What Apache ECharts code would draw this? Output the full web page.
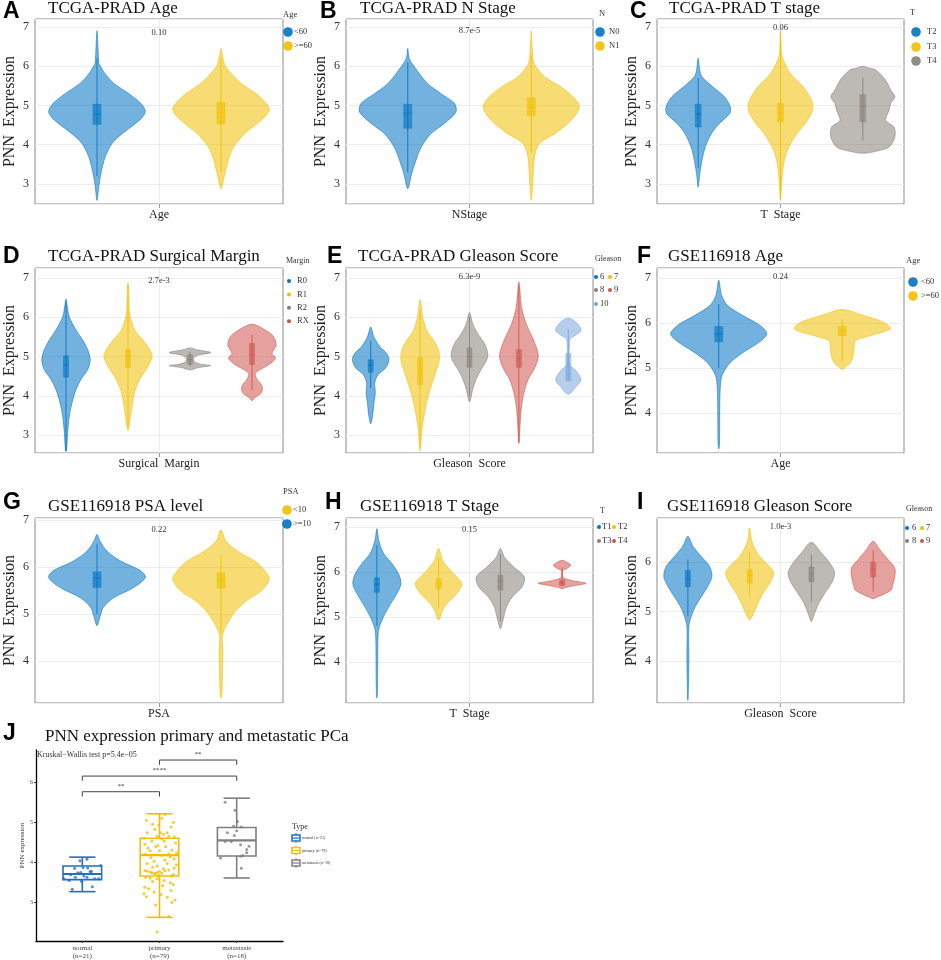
<!DOCTYPE html>
<html><head><meta charset="utf-8">
<script src="https://cdn.jsdelivr.net/npm/echarts@6/dist/echarts.min.js"></script>
<style>html,body{margin:0;padding:0;background:#fff}#c{width:941px;height:960px}</style>
</head><body><div id="c"></div><script>
// ---------------- DATA ----------------
// Violin density profiles: [expression value, relative half-width 0..1]
// Box stats: [lower whisker, Q1, median, Q3, upper whisker]
const groupsA = ['<60', '>=60'];
const densityA = [
  [[6.9,0],[6.5,0.02],[6.07,0.04],[5.98,0.08],[5.8,0.17],[5.56,0.35],[5.3,0.66],[5.05,0.91],[4.85,1.0],[4.7,0.94],[4.54,0.8],[4.28,0.52],[4.03,0.31],[3.69,0.17],[3.26,0.08],[2.92,0.035],[2.58,0]],
  [[6.45,0],[6.2,0.04],[5.98,0.1],[5.56,0.42],[5.3,0.73],[5.05,0.94],[4.88,1.0],[4.62,0.83],[4.28,0.49],[3.94,0.26],[3.6,0.15],[3.26,0.08],[2.88,0]]
];
const boxA = [[3.2,4.52,4.78,5.03,6.2],[3.3,4.53,4.82,5.08,6.2]];

const groupsB = ['N0', 'N1'];
const densityB = [
  [[6.45,0],[6.2,0.03],[5.98,0.14],[5.56,0.41],[5.3,0.69],[5.05,0.97],[4.83,1.0],[4.54,0.76],[4.28,0.48],[3.94,0.28],[3.6,0.17],[3.26,0.08],[2.88,0]],
  [[6.9,0],[6.5,0.02],[6.07,0.06],[5.73,0.28],[5.47,0.62],[5.22,0.87],[4.96,1.0],[4.62,0.83],[4.28,0.49],[4.03,0.17],[3.69,0.07],[3.1,0.035],[2.58,0]]
];
const boxB = [[3.3,4.42,4.8,5.03,6.1],[3.8,4.74,4.94,5.19,6.3]];

const groupsC = ['T2', 'T3', 'T4'];
const densityC = [
  [[6.2,0],[5.9,0.05],[5.73,0.12],[5.47,0.46],[5.22,0.82],[4.96,1.0],[4.79,0.98],[4.54,0.66],[4.28,0.41],[3.94,0.22],[3.6,0.12],[3.26,0.05],[2.92,0]],
  [[6.9,0],[6.5,0.02],[6.24,0.05],[5.81,0.31],[5.47,0.71],[5.13,0.97],[4.88,1.0],[4.54,0.77],[4.28,0.51],[3.94,0.26],[3.6,0.12],[3.18,0.05],[2.6,0]],
  [[6.0,0],[5.95,0.2],[5.9,0.41],[5.64,0.71],[5.39,0.87],[5.22,1.0],[5.05,0.87],[4.88,0.82],[4.62,0.71],[4.45,0.97],[4.2,1.0],[3.94,0.82],[3.85,0.5],[3.78,0]]
];
const boxC = [[3.4,4.45,4.78,5.03,5.7],[2.6,4.58,4.82,5.05,6.9],[4.1,4.58,4.98,5.27,5.7]];

const groupsD = ['R0', 'R1', 'R2', 'RX'];
const densityD = [
  [[6.46,0],[6.2,0.07],[6.0,0.14],[5.67,0.42],[5.42,0.69],[5.17,0.9],[4.92,1.0],[4.67,0.9],[4.42,0.62],[4.17,0.42],[3.83,0.25],[3.5,0.14],[3.08,0.07],[2.6,0.02]],
  [[6.88,0],[6.5,0.04],[6.08,0.07],[5.67,0.28],[5.42,0.62],[5.17,0.9],[5.0,1.0],[4.75,0.83],[4.5,0.56],[4.17,0.31],[3.83,0.19],[3.5,0.11],[3.12,0]],
  [[5.22,0],[5.17,0.3],[5.1,0.86],[5.03,0.3],[4.95,0.15],[4.86,0.2],[4.8,0.5],[4.77,0.86],[4.72,0.35],[4.66,0]],
  [[5.82,0],[5.67,0.56],[5.5,0.9],[5.29,1.0],[5.08,0.83],[4.96,0.97],[4.79,0.69],[4.58,0.14],[4.42,0.21],[4.25,0.42],[4.08,0.39],[3.95,0.1],[3.88,0]]
];
const boxD = [[2.6,4.48,4.79,5.02,6.4],[3.2,4.72,4.95,5.18,6.8],[4.75,4.8,4.92,5.05,5.12],[4.15,4.8,5.05,5.33,5.55]];

const groupsE = ['6', '7', '8', '9', '10'];
const densityE = [
  [[5.75,0],[5.5,0.17],[5.25,0.48],[5.08,0.83],[4.92,0.95],[4.71,0.78],[4.54,0.38],[4.33,0.21],[4.08,0.24],[3.83,0.17],[3.5,0.1],[3.29,0]],
  [[6.45,0],[6.0,0.14],[5.67,0.34],[5.42,0.69],[5.17,0.95],[4.92,1.0],[4.67,0.86],[4.42,0.69],[4.17,0.52],[3.83,0.34],[3.5,0.21],[3.17,0.1],[2.75,0.03],[2.6,0]],
  [[6.12,0],[5.83,0.17],[5.58,0.43],[5.33,0.78],[5.08,0.95],[4.92,0.9],[4.67,0.6],[4.42,0.34],[4.17,0.17],[3.85,0]],
  [[6.9,0],[6.25,0.14],[5.83,0.38],[5.5,0.69],[5.17,0.95],[4.96,1.0],[4.67,0.78],[4.42,0.48],[4.08,0.26],[3.75,0.14],[3.33,0.07],[2.8,0]],
  [[5.98,0],[5.85,0.45],[5.67,0.66],[5.55,0.4],[5.45,0.1],[5.3,0.06],[4.8,0.06],[4.67,0.34],[4.42,0.66],[4.25,0.43],[4.04,0]]
];
const boxE = [[4.2,4.6,4.78,4.92,5.4],[2.7,4.29,4.65,4.97,6.2],[4.0,4.73,5.0,5.22,6.0],[2.8,4.73,4.95,5.17,6.8],[4.4,4.38,4.55,5.08,5.7]];

const groupsF = ['<60', '>=60'];
const densityF = [
  [[6.95,0],[6.61,0.06],[6.39,0.18],[6.17,0.49],[5.95,0.85],[5.76,1.0],[5.58,0.85],[5.36,0.53],[5.13,0.25],[4.84,0.07],[4.54,0.03],[4.0,0.02],[3.3,0.015],[3.2,0]],
  [[6.3,0],[6.17,0.42],[6.02,0.85],[5.87,1.0],[5.73,0.63],[5.61,0.28],[5.5,0.25],[5.28,0.23],[5.13,0.18],[5.03,0.08],[4.97,0]]
];
const boxF = [[5.0,5.58,5.75,5.92,6.42],[5.15,5.72,5.82,5.92,6.1]];

const groupsG = ['>=10', '<10'];
const densityG = [
  [[6.7,0],[6.56,0.06],[6.34,0.21],[6.13,0.49],[5.92,0.91],[5.78,1.0],[5.57,0.77],[5.35,0.35],[5.14,0.13],[4.93,0.06],[4.75,0]],
  [[6.8,0],[6.56,0.1],[6.34,0.35],[6.13,0.7],[5.92,0.91],[5.74,1.0],[5.5,0.84],[5.28,0.52],[5.07,0.31],[4.86,0.17],[4.65,0.06],[4.5,0.025],[4.2,0.04],[3.8,0.03],[3.3,0.02],[3.2,0]]
];
const boxG = [[5.0,5.57,5.77,5.9,6.5],[4.6,5.55,5.72,5.88,6.25]];

const groupsH = ['T1', 'T2', 'T3', 'T4'];
const densityH = [
  [[6.96,0],[6.7,0.08],[6.41,0.28],[6.19,0.62],[5.96,0.9],[5.74,1.0],[5.52,0.83],[5.22,0.49],[4.93,0.21],[4.7,0.07],[4.4,0.04],[4.0,0.035],[3.3,0.02],[3.2,0]],
  [[6.52,0],[6.26,0.17],[6.04,0.49],[5.89,0.76],[5.74,0.97],[5.52,0.76],[5.3,0.35],[5.15,0.17],[4.93,0]],
  [[6.52,0],[6.33,0.17],[6.11,0.56],[5.89,1.0],[5.67,0.9],[5.44,0.49],[5.22,0.25],[4.93,0.11],[4.74,0]],
  [[6.26,0],[6.2,0.25],[6.15,0.36],[6.08,0.2],[6.03,0.03],[5.9,0.03],[5.86,0.08],[5.8,0.5],[5.75,1.0],[5.7,0.55],[5.65,0.1],[5.62,0]]
];
const boxH = [[4.8,5.55,5.73,5.87,6.6],[5.2,5.63,5.74,5.85,6.3],[4.9,5.6,5.8,5.93,6.4],[5.7,5.7,5.76,5.82,6.1]];

const groupsI = ['6', '7', '8', '9'];
const densityI = [
  [[6.52,0],[6.32,0.21],[6.11,0.56],[5.91,0.9],[5.71,1.0],[5.51,0.83],[5.3,0.56],[5.1,0.31],[4.9,0.14],[4.7,0.04],[4.1,0.04],[3.5,0.025],[3.2,0]],
  [[6.69,0],[6.39,0.11],[6.11,0.42],[5.91,0.83],[5.78,1.0],[5.57,0.83],[5.37,0.56],[5.17,0.35],[4.97,0.17],[4.83,0]],
  [[6.4,0],[6.18,0.42],[5.98,0.76],[5.78,0.97],[5.57,0.83],[5.37,0.56],[5.17,0.31],[4.97,0.14],[4.8,0]],
  [[6.42,0],[6.25,0.28],[6.05,0.62],[5.88,0.9],[5.71,0.9],[5.51,0.8],[5.44,0.76],[5.35,0.45],[5.3,0.2],[5.26,0]]
];
const boxI = [[4.9,5.5,5.65,5.83,6.05],[5.3,5.57,5.73,5.85,6.2],[5.2,5.6,5.75,5.9,6.15],[5.4,5.7,5.85,6.0,6.25]];

const pValues = ['0.10', '8.7e-5', '0.06', '2.7e-3', '6.3e-9', '0.24', '0.22', '0.15', '1.0e-3'];

// Panel J
const typeCategories = ['normal\n(n=21)', 'primary\n(n=79)', 'metastasis\n(n=18)'];
const typeLegend = ['normal (n=21)', 'primary (n=79)', 'metastasis (n=18)'];
const boxJ = [[3.27,3.57,3.71,3.91,4.13],[2.63,3.66,4.18,4.60,5.21],[3.61,4.16,4.55,4.87,5.60]];
const normalValues = [4.04,4.08,3.85,3.86,3.87,3.74,3.69,3.66,3.77,3.77,3.75,3.55,3.53,3.59,3.59,3.39,3.33,3.63,3.63,3.59,3.92];
const normalJitter = [-0.03,0.06,-0.10,0.07,0.01,-0.06,-0.15,0.02,0.10,0.12,-0.02,-0.17,-0.01,0.16,0.21,0.13,-0.13,0.06,-0.09,-0.24,0.24];
const primaryValues = [5.05,5.10,5.00,4.93,4.82,4.74,4.74,4.74,4.65,4.65,4.63,4.53,4.53,4.45,4.39,4.39,4.31,4.29,4.29,4.21,4.17,4.09,4.03,3.97,3.97,3.91,3.86,3.80,3.78,3.76,3.74,3.72,3.72,3.75,3.77,3.73,3.79,3.81,3.66,3.63,3.61,3.59,3.55,3.49,3.38,3.34,3.26,3.20,3.13,3.06,3.14,2.94,2.65,2.27,4.95,4.88,4.60,4.48,4.36,4.24,4.12,4.06,3.94,3.88,3.70,3.68,3.52,3.45,3.42,3.30,3.22,3.00,4.70,4.58,4.42,4.20,4.14,3.84,5.20];
const primaryJitter = [-0.17,0.03,0.18,-0.01,-0.06,-0.16,0.01,0.10,0.12,-0.03,0.19,-0.10,0.06,-0.19,-0.05,0.08,0.16,-0.12,0.0,0.12,0.03,0.19,-0.07,-0.16,0.10,-0.03,0.19,-0.19,-0.16,-0.12,-0.10,-0.07,-0.05,-0.03,0.0,0.03,0.07,0.12,0.15,-0.18,-0.12,-0.03,0.06,0.14,-0.19,-0.14,-0.07,0.02,0.10,0.20,-0.17,-0.05,0.12,-0.03,-0.09,0.15,-0.20,0.21,-0.15,0.22,-0.11,0.07,0.22,-0.09,0.18,-0.01,-0.09,0.18,0.04,0.15,-0.20,0.16,0.05,0.03,-0.02,-0.18,0.14,0.05,0.07];
const metastasisValues = [5.50,5.30,5.02,4.90,4.79,4.74,4.67,4.52,4.52,4.40,4.44,4.32,4.24,4.17,4.15,4.11,3.85,4.88];
const metastasisJitter = [-0.15,-0.02,0.01,-0.04,0.0,-0.12,-0.03,-0.15,-0.07,0.16,0.05,0.13,0.13,0.08,0.05,-0.21,0.06,0.06];
const comparisons = [[1,2,5.76,'**'],[1,3,6.15,'****'],[2,3,6.55,'**']];

// ---------------- STYLE / LAYOUT ----------------
const BLUE='#0073C2', YEL='#EFC000', GREY='#878078', RED='#CD534C', LBLUE='#7AA6DC';
const SERIF="'Liberation Serif','DejaVu Serif',serif";
const SANS="'Liberation Sans','DejaVu Sans',sans-serif";
function rgba(hex,a){const n=parseInt(hex.slice(1),16);return 'rgba('+(n>>16&255)+','+(n>>8&255)+','+(n&255)+','+a+')';}

const cols=[35,346,657], widths=[248,247,247], rowsTop=[19,268,518], H=185;
const panels=[
 {L:'A',title:'TCGA-PRAD Age',xname:'Age',groups:groupsA,dens:densityA,box:boxA,colors:[BLUE,YEL],yr:[2.49,7.2],tx:48,lx:3,py:33},
 {L:'B',title:'TCGA-PRAD N Stage',xname:'NStage',groups:groupsB,dens:densityB,box:boxB,colors:[BLUE,YEL],yr:[2.49,7.2],tx:360,lx:320,py:31},
 {L:'C',title:'TCGA-PRAD T stage',xname:'T  Stage',groups:groupsC,dens:densityC,box:boxC,colors:[BLUE,YEL,GREY],yr:[2.49,7.2],tx:669,lx:630,py:28},
 {L:'D',title:'TCGA-PRAD Surgical Margin',xname:'Surgical  Margin',groups:groupsD,dens:densityD,box:boxD,colors:[BLUE,YEL,GREY,RED],yr:[2.55,7.25],tx:48,lx:3,py:281},
 {L:'E',title:'TCGA-PRAD Gleason Score',xname:'Gleason  Score',groups:groupsE,dens:densityE,box:boxE,colors:[BLUE,YEL,GREY,RED,LBLUE],yr:[2.55,7.25],tx:358,lx:327,py:277},
 {L:'F',title:'GSE116918 Age',xname:'Age',groups:groupsF,dens:densityF,box:boxF,colors:[BLUE,YEL],yr:[3.11,7.22],tx:668,lx:637,py:277},
 {L:'G',title:'GSE116918 PSA level',xname:'PSA',groups:groupsG,dens:densityG,box:boxG,colors:[BLUE,YEL],yr:[3.1,7.05],tx:48,lx:3,py:530},
 {L:'H',title:'GSE116918 T Stage',xname:'T  Stage',groups:groupsH,dens:densityH,box:boxH,colors:[BLUE,YEL,GREY,RED],yr:[3.09,7.2],tx:360,lx:325,py:530},
 {L:'I',title:'GSE116918 Gleason Score',xname:'Gleason  Score',groups:groupsI,dens:densityI,box:boxI,colors:[BLUE,YEL,GREY,RED],yr:[3.15,6.89],tx:667,lx:637,py:527}
];
const titleY=[9,257,507], letterY=[12,257,503];

const grids=[], xAxes=[], yAxes=[], series=[], gfx=[];
function txt(text,x,y,size,opt){opt=opt||{};return {type:'text',silent:true,z:100,style:{text:text,x:x,y:y,fontSize:size,fontFamily:opt.family||SERIF,fontWeight:opt.weight||'normal',fill:opt.fill||'#222',align:opt.align||'left',verticalAlign:opt.va||'middle'}};}

panels.forEach((p,i)=>{
  const r=Math.floor(i/3), c=i%3, N=p.groups.length;
  grids.push({left:cols[c],top:rowsTop[r],width:widths[c],height:H,show:true,borderColor:'#8a8a8a',borderWidth:1,backgroundColor:'#fff',containLabel:false});
  xAxes.push({type:'value',gridIndex:i,min:0,max:N,interval:N/2,
    axisLine:{show:false},
    axisTick:{show:true,length:4,customValues:[N/2],lineStyle:{color:'#999'}},
    axisLabel:{customValues:[N/2],formatter:(v)=>Math.abs(v-N/2)<1e-6?p.xname:'',fontFamily:SERIF,fontSize:12,color:'#222',margin:5},
    splitLine:{show:true,lineStyle:{color:'#ececec',width:1}}});
  yAxes.push({type:'value',gridIndex:i,min:p.yr[0],max:p.yr[1],
    name:'PNN  Expression',nameLocation:'middle',nameGap:17,nameTextStyle:{fontFamily:SERIF,fontSize:16,color:'#222'},
    axisLine:{show:false},axisTick:{show:false},
    axisLabel:{fontFamily:SERIF,fontSize:12,color:'#333',margin:6,showMinLabel:false,showMaxLabel:false},
    splitLine:{show:true,lineStyle:{color:'#ececec',width:1}}});
  const dens=p.dens, box=p.box, colors=p.colors;
  const bandPx=widths[c]/N;
  const boxHalf=Math.max(2.5,Math.min(4,bandPx*0.035));
  series.push({type:'custom',xAxisIndex:i,yAxisIndex:i,clip:true,
    data:p.groups.map((g,k)=>[k+0.5,5,k]),encode:{x:0,y:1},
    renderItem:function(params,api){
      const k=api.value(2), prof=dens[k], b=box[k], col=colors[k];
      const xc=k+0.5, half=0.39;
      const pts=[];
      prof.forEach(q=>pts.push(api.coord([xc+q[1]*half,q[0]])));
      for(let j=prof.length-1;j>=0;j--){ if(prof[j][1]>0) pts.push(api.coord([xc-prof[j][1]*half,prof[j][0]])); }
      const cx=api.coord([xc,b[2]])[0];
      const yMed=api.coord([xc,b[2]])[1], yQ3=api.coord([xc,b[3]])[1], yQ1=api.coord([xc,b[1]])[1];
      const yHi=api.coord([xc,b[4]])[1], yLo=api.coord([xc,b[0]])[1];
      return {type:'group',children:[
        {type:'polygon',shape:{points:pts,smooth:0.3},style:{fill:rgba(col,0.55),stroke:rgba(col,0.7),lineWidth:0.8}},
        {type:'line',shape:{x1:cx,y1:yHi,x2:cx,y2:yLo},style:{stroke:rgba(col,0.85),lineWidth:1}},
        {type:'rect',shape:{x:cx-boxHalf,y:yQ3,width:boxHalf*2,height:yQ1-yQ3},style:{fill:rgba(col,0.6),stroke:rgba(col,0.8),lineWidth:0.5}},
        {type:'line',shape:{x1:cx-boxHalf,y1:yMed,x2:cx+boxHalf,y2:yMed},style:{stroke:rgba(col,0.9),lineWidth:0.8}}
      ]};
    }});
  gfx.push(txt(p.title,p.tx,titleY[r],17,{fill:'#111'}));
  gfx.push(txt(p.L,p.lx,letterY[r],23,{family:SANS,weight:'bold',fill:'#000'}));
  gfx.push(txt(pValues[i],cols[c]+widths[c]/2,p.py,8.5,{align:'center',fill:'#333'}));
});

// ---- legends ----
function bigLegend(title,tx,ty,cx,cys,textX,labels,colors){
  gfx.push(txt(title,tx,ty,8.5,{fill:'#333'}));
  labels.forEach((l,k)=>{
    gfx.push({type:'circle',silent:true,z:100,shape:{cx:cx,cy:cys[k],r:4.8},style:{fill:colors[k],opacity:0.9}});
    gfx.push(txt(l,textX,cys[k],8.5,{fill:'#333'}));
  });
}
function dotItem(label,dx,y,tx,color){
  gfx.push({type:'circle',silent:true,z:100,shape:{cx:dx,cy:y,r:2},style:{fill:color}});
  gfx.push(txt(label,tx,y,8.5,{fill:'#333'}));
}
bigLegend('Age',283,15,288,[32,46],294,groupsA,[BLUE,YEL]);
bigLegend('N',599,14,600,[32,46],609,groupsB,[BLUE,YEL]);
bigLegend('T',910,13,916,[32,47,61],927,groupsC,[BLUE,YEL,GREY]);
bigLegend('Age',906,261,913,[282,296],921,groupsF,[BLUE,YEL]);
bigLegend('PSA',283,492,287,[510,524],293,['<10','>=10'],[YEL,BLUE]);
gfx.push(txt('Margin',286,261,8,{fill:'#333'}));
groupsD.forEach((g,k)=>dotItem(g,289,281+k*13.4,297,[BLUE,YEL,GREY,RED][k]));
gfx.push(txt('Gleason',595,259,8,{fill:'#333'}));
dotItem('6',596,277,600,BLUE); dotItem('7',610,277,614,YEL);
dotItem('8',596,290,600,GREY); dotItem('9',610,290,614,RED);
dotItem('10',596,304,600,LBLUE);
gfx.push(txt('T',600,511,8,{fill:'#333'}));
dotItem('T1',599,527,602,BLUE); dotItem('T2',614,527,618,YEL);
dotItem('T3',599,541,602,GREY); dotItem('T4',614,541,618,RED);
gfx.push(txt('Gleason',906,509,8,{fill:'#333'}));
dotItem('6',907,528,912,BLUE); dotItem('7',922,528,926,YEL);
dotItem('8',907,541,912,GREY); dotItem('9',922,541,926,RED);

// ---- Panel J ----
const jCol=['#1F6FC5','#EFBF05','#7F7F7F'];
grids.push({left:36,top:750,width:247,height:193,show:false,containLabel:false});
xAxes.push({type:'value',gridIndex:9,min:0.4,max:3.6,
  axisLine:{show:true,lineStyle:{color:'#000',width:1.3}},
  axisTick:{show:true,length:2,customValues:[1,2,3],lineStyle:{color:'#333'}},
  axisLabel:{customValues:[1,2,3],formatter:(v)=>typeCategories[Math.round(v)-1]||'',fontFamily:SERIF,fontSize:7,lineHeight:8,color:'#444',margin:3},
  splitLine:{show:false}});
yAxes.push({type:'value',gridIndex:9,min:2.04,max:6.8,
  name:'PNN expression',nameLocation:'middle',nameGap:10,nameTextStyle:{fontFamily:SERIF,fontSize:7,color:'#333'},
  axisLine:{show:true,lineStyle:{color:'#000',width:1.3}},
  axisTick:{show:true,length:2,lineStyle:{color:'#333'}},
  axisLabel:{fontFamily:SERIF,fontSize:6,color:'#555',margin:3,showMinLabel:false,showMaxLabel:false},
  splitLine:{show:false}});
series.push({type:'custom',xAxisIndex:9,yAxisIndex:9,
  data:boxJ.map((b,k)=>[k+1,b[0],b[1],b[2],b[3],b[4],k]),encode:{x:0,y:[1,5]},
  renderItem:function(params,api){
    const x=api.value(0), k=api.value(6), col=jCol[k];
    const bw=0.25, cw=0.17;
    const L=api.coord([x-bw,0])[0], R=api.coord([x+bw,0])[0], cL=api.coord([x-cw,0])[0], cR=api.coord([x+cw,0])[0], cx=api.coord([x,0])[0];
    const y=[1,2,3,4,5].map(d=>api.coord([x,api.value(d)])[1]);
    const st={stroke:col,lineWidth:1.6,fill:null};
    return {type:'group',children:[
      {type:'line',shape:{x1:cx,y1:y[0],x2:cx,y2:y[1]},style:st},
      {type:'line',shape:{x1:cx,y1:y[3],x2:cx,y2:y[4]},style:st},
      {type:'line',shape:{x1:cL,y1:y[0],x2:cR,y2:y[0]},style:st},
      {type:'line',shape:{x1:cL,y1:y[4],x2:cR,y2:y[4]},style:st},
      {type:'rect',shape:{x:L,y:y[3],width:R-L,height:y[1]-y[3]},style:{stroke:col,lineWidth:1.6,fill:'rgba(255,255,255,0)'}},
      {type:'line',shape:{x1:L,y1:y[2],x2:R,y2:y[2]},style:{stroke:col,lineWidth:2.2}}
    ]};
  }});
[[normalValues,normalJitter,1],[primaryValues,primaryJitter,2],[metastasisValues,metastasisJitter,3]].forEach((s,k)=>{
  series.push({type:'scatter',xAxisIndex:9,yAxisIndex:9,symbolSize:3,itemStyle:{color:jCol[k]},
    data:s[0].map((v,j)=>[s[2]+s[1][j],v])});
});
series.push({type:'custom',xAxisIndex:9,yAxisIndex:9,
  data:comparisons.map(c=>[c[0],c[2],c[1]]),encode:{x:[0,2],y:1},
  renderItem:function(params,api){
    const c=comparisons[params.dataIndex];
    const p1=api.coord([c[0],c[2]]), p2=api.coord([c[1],c[2]]), d=api.coord([c[0],c[2]-0.12])[1];
    return {type:'group',children:[
      {type:'polyline',shape:{points:[[p1[0],d],p1,p2,[p2[0],d]]},style:{stroke:'#444',lineWidth:1,fill:null}},
      {type:'text',style:{text:c[3],x:(p1[0]+p2[0])/2,y:p1[1]-2,fontSize:7,fontFamily:SERIF,fill:'#333',align:'center',verticalAlign:'bottom'}}
    ]};
  }});
gfx.push(txt('PNN expression primary and metastatic PCa',45,737,17,{fill:'#111'}));
gfx.push(txt('J',3,734,23,{family:SANS,weight:'bold',fill:'#000'}));
gfx.push(txt('Kruskal\u2212Wallis test p=5.4e\u221205',37,755,8,{fill:'#333'}));
gfx.push(txt('Type',292,827,8,{fill:'#333'}));
typeLegend.forEach((l,k)=>{
  const cy=838+k*12.5, col=jCol[k];
  gfx.push({type:'line',silent:true,z:100,shape:{x1:296,y1:cy-5,x2:296,y2:cy+5},style:{stroke:col,lineWidth:1}});
  gfx.push({type:'rect',silent:true,z:100,shape:{x:292,y:cy-3,width:8,height:6},style:{stroke:col,lineWidth:1.5,fill:'#fff'}});
  gfx.push({type:'line',silent:true,z:100,shape:{x1:292,y1:cy,x2:300,y2:cy},style:{stroke:col,lineWidth:1.2}});
  gfx.push(txt(l,302,cy,4,{fill:'#333'}));
});

const chart=echarts.init(document.getElementById('c'),null,{renderer:'canvas'});
chart.setOption({backgroundColor:'#fff',animation:false,grid:grids,xAxis:xAxes,yAxis:yAxes,series:series,graphic:{elements:gfx}});
</script></body></html>
